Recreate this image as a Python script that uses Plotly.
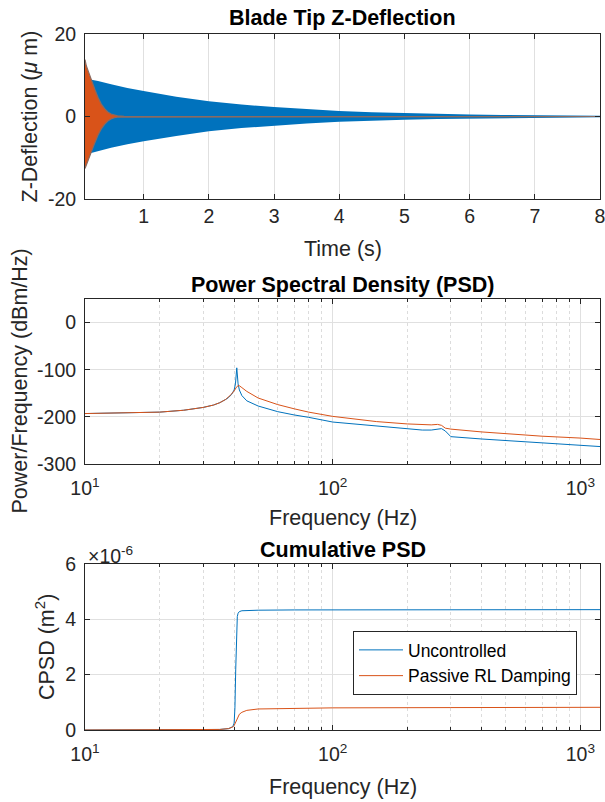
import plotly.graph_objects as go

# ---------------- data ----------------
# Subplot 1: envelope of the blade tip deflection (micrometres)
t_unc = [0.1, 0.15, 0.2, 0.3, 0.5, 0.75, 1.0, 1.5, 2.0, 2.5, 3.0, 3.5, 4.0, 4.5, 5.0, 5.5, 6.0, 6.5, 7.0, 7.5, 8.0]
unc_upper = [9.4, 9.3, 8.9, 8.6, 7.8, 6.9, 6.2, 4.8, 3.7, 2.9, 2.3, 1.8, 1.35, 1.05, 0.8, 0.62, 0.48, 0.37, 0.29, 0.23, 0.18]
unc_lower = [-9.0, -9.0, -8.9, -8.5, -7.6, -6.7, -6.0, -4.7, -3.6, -2.8, -2.2, -1.7, -1.3, -1.0, -0.78, -0.6, -0.46, -0.36, -0.28, -0.22, -0.17]

t_rl = [0.1, 0.12, 0.15, 0.18, 0.2, 0.25, 0.3, 0.35, 0.4, 0.45, 0.5, 0.55, 0.6, 0.7, 1.0, 2.0, 4.0, 8.0]
rl_upper = [13.8, 12.3, 11.0, 9.6, 8.8, 6.6, 4.6, 3.0, 1.9, 1.1, 0.6, 0.3, 0.15, 0.05, 0.0, 0.0, 0.0, 0.0]
rl_lower = [-12.6, -11.8, -10.6, -9.3, -8.5, -6.4, -4.5, -3.0, -1.9, -1.1, -0.6, -0.3, -0.15, -0.05, 0.0, 0.0, 0.0, 0.0]

# Subplot 2: PSD (dBm/Hz)
freq_psd = [10, 15, 20, 25, 30, 33, 35, 37, 38, 39, 40, 40.5, 41, 41.5, 42, 43, 45, 50, 60, 70, 80, 100,
            150, 200, 230, 250, 265, 275, 285, 295, 300, 400, 500, 700, 1000, 1200]
psd_unc = [-193, -192, -190, -186, -180, -175, -170, -163, -159, -153, -143, -130, -96, -130, -143, -155, -166,
           -177, -189, -196, -201, -211, -220, -226, -228, -228, -226, -225, -230, -238, -242, -247, -250,
           -255, -260, -263]
psd_rl = [-193, -192, -190, -186, -180, -175, -170, -163, -158, -152, -145, -140, -136, -134, -134, -138, -146,
          -160, -174, -183, -190, -199, -210, -215, -217, -217, -216, -218, -224, -226, -226, -232, -236,
          -241, -245, -248]

# Subplot 3: cumulative PSD (x 1e-6 m^2)
freq_cpsd = [10, 20, 30, 35, 38, 39, 39.5, 40, 40.3, 40.6, 40.9, 41.2, 41.5, 42, 43, 45, 50, 70, 100, 300, 1200]
cpsd_unc = [0, 0.002, 0.008, 0.02, 0.05, 0.08, 0.12, 0.25, 0.8, 2.2, 3.6, 4.1, 4.22, 4.28, 4.31, 4.32, 4.33,
            4.34, 4.34, 4.35, 4.35]
cpsd_rl = [0, 0.002, 0.008, 0.02, 0.05, 0.08, 0.11, 0.16, 0.22, 0.3, 0.38, 0.45, 0.5, 0.57, 0.64, 0.71, 0.76,
           0.79, 0.8, 0.81, 0.82]

series_names = ["Uncontrolled", "Passive RL Damping"]
time_ticks = [1, 2, 3, 4, 5, 6, 7, 8]
defl_ticks = [-20, 0, 20]
defl_ticktext = ["-20", "0", "20"]
psd_ticks = [-300, -200, -100, 0]
psd_ticktext = ["-300", "-200", "-100", "0"]
cpsd_ticks = [0, 2, 4, 6]
log_ticks = [10, 100, 1000]
log_ticktext = ["10<sup>1</sup>", "10<sup>2</sup>", "10<sup>3</sup>"]
log_minor = [20, 30, 40, 50, 60, 70, 80, 90, 200, 300, 400, 500, 600, 700, 800, 900]

# ---------------- styling ----------------
BLUE = "#0072BD"
ORANGE = "#D95319"
AX = "#262626"
FONT = "Liberation Sans, Arial, sans-serif"
W, H = 605, 802

def px_x(p):
    return p / W

def px_y(p):
    return 1 - p / H

XD = [px_x(85), px_x(600)]
Y1 = [px_y(199), px_y(34)]
Y2 = [px_y(464), px_y(299)]
Y3 = [px_y(730), px_y(564)]

fig = go.Figure()

# subplot 1: filled envelopes
fig.add_trace(go.Scatter(
    x=t_unc + t_unc[::-1], y=unc_upper + unc_lower[::-1], fill="toself",
    fillcolor=BLUE, line=dict(width=0, color=BLUE), mode="lines",
    showlegend=False, hoverinfo="skip", xaxis="x", yaxis="y"))
fig.add_trace(go.Scatter(
    x=t_rl + t_rl[::-1], y=rl_upper + rl_lower[::-1], fill="toself",
    fillcolor=ORANGE, line=dict(width=1.2, color="#8a6a60"), mode="lines",
    showlegend=False, hoverinfo="skip", xaxis="x", yaxis="y"))

# subplot 2
fig.add_trace(go.Scatter(x=freq_psd, y=psd_unc, mode="lines", line=dict(color=BLUE, width=1),
                         showlegend=False, xaxis="x2", yaxis="y2"))
fig.add_trace(go.Scatter(x=freq_psd, y=psd_rl, mode="lines", line=dict(color=ORANGE, width=1),
                         showlegend=False, xaxis="x2", yaxis="y2"))

# subplot 3
fig.add_trace(go.Scatter(x=freq_cpsd, y=cpsd_unc, mode="lines", line=dict(color=BLUE, width=1),
                         name=series_names[0], xaxis="x3", yaxis="y3"))
fig.add_trace(go.Scatter(x=freq_cpsd, y=cpsd_rl, mode="lines", line=dict(color=ORANGE, width=1),
                         name=series_names[1], xaxis="x3", yaxis="y3"))

tickfont = dict(family=FONT, size=19.5, color=AX)
base = dict(showline=True, linecolor=AX, linewidth=1, mirror="ticks", ticks="inside",
            ticklen=5, tickcolor=AX, tickwidth=1, tickfont=tickfont, zeroline=False,
            fixedrange=True, automargin=False, ticklabeloverflow="allow")
grid = dict(showgrid=True, gridcolor="#e0e0e0", gridwidth=1)
minor = dict(tickvals=log_minor, ticks="inside", ticklen=3, tickcolor=AX,
             showgrid=True, gridcolor="#dcdcdc", griddash="dot", gridwidth=1)

layout = dict(
    width=W, height=H, margin=dict(l=0, r=0, t=0, b=0, autoexpand=False),
    paper_bgcolor="white", plot_bgcolor="white",
    font=dict(family=FONT, color=AX),
    xaxis=dict(base, **grid, domain=XD, range=[0.1, 8.0], tickvals=time_ticks, anchor="y",
               ticklabelstandoff=0),
    yaxis=dict(base, domain=Y1, range=[-20, 20], tickvals=defl_ticks, ticktext=defl_ticktext,
               showgrid=False, anchor="x", ticklabelstandoff=4),
    xaxis2=dict(base, **grid, domain=XD, type="log", range=[1, 3.0792], tickvals=log_ticks,
                ticktext=log_ticktext, minor=minor, anchor="y2", ticklabelstandoff=7),
    yaxis2=dict(base, **grid, domain=Y2, range=[-300, 50], tickvals=psd_ticks, ticktext=psd_ticktext,
                anchor="x2", ticklabelstandoff=4),
    xaxis3=dict(base, **grid, domain=XD, type="log", range=[1, 3.0792], tickvals=log_ticks,
                ticktext=log_ticktext, minor=minor, anchor="y3", ticklabelstandoff=7),
    yaxis3=dict(base, **grid, domain=Y3, range=[0, 6], tickvals=cpsd_ticks, anchor="x3",
                ticklabelstandoff=4),
    legend=dict(x=px_x(353), y=px_y(631), xanchor="left", yanchor="top",
                bgcolor="white", bordercolor=AX, borderwidth=1,
                font=dict(family=FONT, size=17.5, color="black"), itemwidth=44,
                tracegroupgap=0),
    showlegend=True,
)
fig.update_layout(**layout)

def ann(text, x, y, size=21.5, bold=False, angle=0, color=AX, xanchor="center"):
    if bold:
        text = "<b>" + text + "</b>"
    fig.add_annotation(text=text, x=px_x(x), y=px_y(y), xref="paper", yref="paper",
                       showarrow=False, textangle=angle, xanchor=xanchor, yanchor="middle",
                       font=dict(family=FONT, size=size, color=color))

cx = (85 + 600) / 2
ann("Blade Tip Z-Deflection", cx, 18, bold=True, color="black")
ann("Power Spectral Density (PSD)", cx, 285, bold=True, color="black")
ann("Cumulative PSD", cx, 550, bold=True, color="black")
ann("Time (s)", cx, 249)
ann("Frequency (Hz)", cx, 518)
ann("Frequency (Hz)", cx, 787)
ann("Z-Deflection (<i>μ</i> m)", 30, (34 + 199) / 2, angle=-90)
ann("Power/Frequency (dBm/Hz)", 19, (299 + 464) / 2, angle=-90)
ann("CPSD (m<sup>2</sup>)", 45, (564 + 730) / 2, angle=-90)
ann("×10<sup>-6</sup>", 86, 555, size=19.5, xanchor="left")

fig.write_html("out.html")
